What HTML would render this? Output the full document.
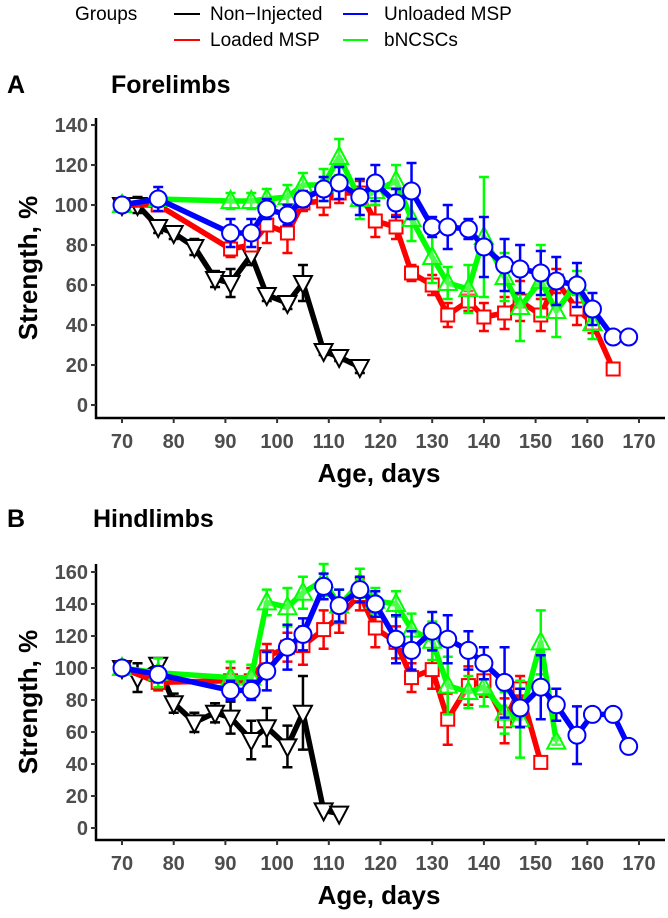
<!DOCTYPE html>
<html><head><meta charset="utf-8">
<style>
html,body{margin:0;padding:0;background:#fff;}
svg{display:block;font-family:"Liberation Sans",Arial,sans-serif;}
.tick{font-weight:bold;fill:#4d4d4d;font-size:20px;}
</style></head>
<body>
<svg id="chart" width="668" height="918" viewBox="0 0 668 918" xmlns="http://www.w3.org/2000/svg">
  <g font-size="19">
    <text x="75" y="20">Groups</text>
    <line x1="174" y1="14" x2="200" y2="14" stroke="#000" stroke-width="2"/>
    <text x="210" y="20">Non−Injected</text>
    <line x1="174" y1="40" x2="200" y2="40" stroke="#f00" stroke-width="2"/>
    <text x="210" y="46">Loaded MSP</text>
    <line x1="343" y1="14" x2="368" y2="14" stroke="#00f" stroke-width="2"/>
    <text x="384" y="20">Unloaded MSP</text>
    <line x1="343" y1="40" x2="368" y2="40" stroke="#0f0" stroke-width="2"/>
    <text x="384" y="46">bNCSCs</text>
  </g>
  <text x="7" y="93" font-size="25" font-weight="bold">A</text>
  <text x="111" y="93" font-size="25" font-weight="bold">Forelimbs</text>
  <text x="7" y="527" font-size="25" font-weight="bold">B</text>
  <text x="93" y="527" font-size="25" font-weight="bold">Hindlimbs</text>
  <g id="panelA"></g>
  <g id="panelB"></g>
</svg>
<script>
// Panel A data
const aBlackDays=[70,73,77,80,84,88,91,95,98,102,105,109,112,116];
const aBlackVals=[100,100,89,86,79,63,61,75,55,51,61,27,24,19];
const aBlackErr=[2,4,3,3,4,4,7,5,3,3,9,2,2,3];
const aRedDays=[70,77,91,95,98,102,105,109,112,116,119,123,126,130,133,137,140,144,147,151,154,158,161,165];
const aRedVals=[100,100,78,80,90,86,101,102,106,106,92,89,66,60,45,52,44,46,52,45,62,48,41,18];
const aRedErr=[2,3,4,3,9,10,4,7,5,6,8,6,4,5,6,5,7,8,10,8,6,8,5,1];
const aGreenDays=[70,77,91,95,98,102,105,109,112,116,119,123,126,130,133,137,140,144,147,151,154,158,161];
const aGreenVals=[100,103,102,102,103,104,110,110,124,103,107,112,93,74,61,58,84,64,49,62,47,61,41];
const aGreenErr=[3,3,4,4,5,6,6,8,9,10,7,8,11,13,8,12,30,12,17,18,13,6,8];
const aBlueDays=[70,77,91,95,98,102,105,109,112,116,119,123,126,130,133,137,140,144,147,151,154,158,161,165,168];
const aBlueVals=[100,103,86,86,98,95,103,108,111,104,111,101,107,89,89,88,79,70,68,66,62,60,48,34,34];
const aBlueErr=[2,6,7,7,5,5,4,6,8,9,9,7,14,5,11,5,15,13,12,11,12,11,8,2,2];
// Panel B data
const bBlackDays=[70,73,77,80,84,88,91,95,98,102,105,109,112];
const bBlackVals=[100,94,102,78,66,72,69,55,63,51,72,11,9];
const bBlackErr=[3,9,4,6,6,6,10,12,12,13,23,1,1];
const bRedDays=[70,77,91,95,98,102,105,109,112,116,119,123,126,130,133,137,140,144,147,151];
const bRedVals=[100,91,92,92,107,113,114,124,132,146,125,116,94,99,68,89,92,67,87,41];
const bRedErr=[2,5,8,8,8,9,12,12,10,10,12,10,9,12,16,12,10,14,8,1];
const bGreenDays=[70,77,91,95,98,102,105,109,112,116,119,123,126,130,133,137,140,144,147,151,154];
const bGreenVals=[100,97,94,94,141,138,147,155,139,153,142,140,124,117,89,85,88,72,68,116,54];
const bGreenErr=[3,9,10,8,8,12,10,10,10,9,8,8,10,12,18,10,12,13,24,20,2];
const bBlueDays=[70,77,91,95,98,102,105,109,112,116,119,123,126,130,133,137,140,144,147,151,154,158,161,165,168];
const bBlueVals=[100,96,86,86,98,113,121,151,139,149,140,118,111,123,118,111,103,91,75,88,77,58,71,71,51];
const bBlueErr=[2,5,6,6,12,14,10,8,10,8,8,15,12,12,15,12,10,22,12,20,10,18,2,2,2];
const xTicks=[70,80,90,100,110,120,130,140,150,160,170];
const aYTicks=[0,20,40,60,80,100,120,140];
const bYTicks=[0,20,40,60,80,100,120,140,160];

const NS="http://www.w3.org/2000/svg";
function mk(tag,parent,attrs){const e=document.createElementNS(NS,tag);for(const k in attrs)e.setAttribute(k,attrs[k]);parent.appendChild(e);return e;}
function xScale(d){return 122+(d-70)*5.17;}

function drawPanel(g,cfg){
  const y=v=>cfg.y0-v*cfg.k;
  const ya=mk('line',g,{x1:96,y1:cfg.top,x2:96,y2:cfg.axisY+1,stroke:'#000','stroke-width':2.5});
  
  
  const xa=mk('line',g,{x1:95,y1:cfg.axisY,x2:665,y2:cfg.axisY,stroke:'#000','stroke-width':2.5});
  
  
  cfg.yTicks.forEach(v=>{
    mk('line',g,{x1:91,y1:y(v),x2:96,y2:y(v),stroke:'#333','stroke-width':2});
    const t=mk('text',g,{x:88,y:y(v)+7,'text-anchor':'end',class:'tick'});
    t.textContent=v;
    
    
  });
  xTicks.forEach(d=>{
    mk('line',g,{x1:xScale(d),y1:cfg.axisY,x2:xScale(d),y2:cfg.axisY+5,stroke:'#333','stroke-width':2});
    const t=mk('text',g,{x:xScale(d),y:cfg.axisY+30,'text-anchor':'middle',class:'tick','font-size':21});
    t.textContent=d;
    
    
  });
  const xt=mk('text',g,{x:379,y:cfg.axisY+64,'text-anchor':'middle','font-size':26,'font-weight':'bold'});
  xt.textContent='Age, days';
  
  
  const yc=(cfg.top+cfg.axisY)/2;
  const yt=mk('text',g,{x:0,y:0,'text-anchor':'middle','font-size':26,'font-weight':'bold',transform:`translate(37,${yc}) rotate(-90)`});
  yt.textContent='Strength, %';
  
  

  cfg.series.forEach(s=>{
    const sg=mk('g',g,{});
    
    
    s.days.forEach((d,i)=>{
      const x=xScale(d),hi=y(s.vals[i]+s.err[i]),lo=y(s.vals[i]-s.err[i]);
      const p=mk('path',sg,{d:`M${x},${hi}V${lo}M${x-5},${hi}H${x+5}M${x-5},${lo}H${x+5}`,stroke:s.color,'stroke-width':2.5,fill:'none'});
      
      
    });
    const pts=s.days.map((d,i)=>xScale(d)+','+y(s.vals[i])).join(' ');
    const pl=mk('polyline',sg,{points:pts,fill:'none',stroke:s.color,'stroke-width':5.5,'stroke-linejoin':'round'});
    
    
    s.days.forEach((d,i)=>{
      const x=xScale(d),yy=y(s.vals[i]);let m;
      if(s.shape==='circle')m=mk('circle',sg,{cx:x,cy:yy,r:8.5,fill:'#fff',stroke:s.color,'stroke-width':2});
      else if(s.shape==='square')m=mk('rect',sg,{x:x-6.5,y:yy-6.5,width:13,height:13,fill:'#fff',stroke:s.color,'stroke-width':2});
      else if(s.shape==='up')m=mk('path',sg,{d:`M${x},${yy-10}L${x+9},${yy+7}L${x-9},${yy+7}Z`,fill:'#fff','fill-opacity':0.3,stroke:s.color,'stroke-width':2});
      else m=mk('path',sg,{d:`M${x-9},${yy-7}L${x+9},${yy-7}L${x},${yy+10}Z`,fill:'#fff',stroke:s.color,'stroke-width':2});
      
      
    });
  });
}
drawPanel(document.getElementById('panelA'),{y0:405,k:2,top:118,axisY:418,yTicks:aYTicks,series:[
  {name:'non-injected',color:'#000',shape:'down',days:aBlackDays,vals:aBlackVals,err:aBlackErr},
  {name:'loaded-msp',color:'#f00',shape:'square',days:aRedDays,vals:aRedVals,err:aRedErr},
  {name:'bncscs',color:'#0f0',shape:'up',days:aGreenDays,vals:aGreenVals,err:aGreenErr},
  {name:'unloaded-msp',color:'#00f',shape:'circle',days:aBlueDays,vals:aBlueVals,err:aBlueErr}]});
drawPanel(document.getElementById('panelB'),{y0:828,k:1.6,top:564,axisY:840,yTicks:bYTicks,series:[
  {name:'non-injected',color:'#000',shape:'down',days:bBlackDays,vals:bBlackVals,err:bBlackErr},
  {name:'loaded-msp',color:'#f00',shape:'square',days:bRedDays,vals:bRedVals,err:bRedErr},
  {name:'bncscs',color:'#0f0',shape:'up',days:bGreenDays,vals:bGreenVals,err:bGreenErr},
  {name:'unloaded-msp',color:'#00f',shape:'circle',days:bBlueDays,vals:bBlueVals,err:bBlueErr}]});
</script>
</body></html>
